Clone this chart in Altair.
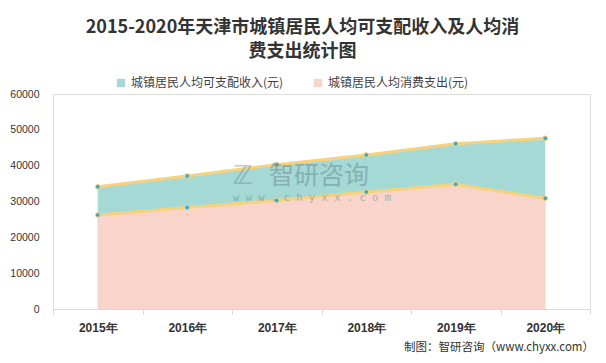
import altair as alt
import pandas as pd

years = ["2015年", "2016年", "2017年", "2018年", "2019年", "2020年"]
income = [34101, 37110, 40278, 42976, 46119, 47659]
consumption = [26230, 28345, 30284, 32655, 34811, 30895]
series_names = ["城镇居民人均可支配收入(元)", "城镇居民人均消费支出(元)"]
series_colors = ["#a4d9d6", "#f8d4ca"]
y_ticks = [0, 10000, 20000, 30000, 40000, 50000, 60000]

rows = []
for i, y in enumerate(years):
    rows.append({"year": y, "series": series_names[0], "value": income[i], "order": 0})
    rows.append({"year": y, "series": series_names[1], "value": consumption[i], "order": 1})
df = pd.DataFrame(rows)

W, H = 537, 215
FONT = "Noto Sans CJK SC"

x_enc = alt.X("year:N", sort=years, bandPosition=0.5,
              scale=alt.Scale(type="band", paddingInner=0, paddingOuter=0),
              axis=alt.Axis(title=None, labelAngle=0, labelFont="Liberation Sans",
                            labelFontWeight="bold", labelFontSize=12, labelColor="#333333",
                            labelPadding=8, domainColor="#d9d9d9", tickColor="#d9d9d9",
                            tickSize=5, tickBand="extent", grid=False))
y_enc = alt.Y("value:Q", scale=alt.Scale(domain=[0, 60000], nice=False),
              axis=alt.Axis(title=None, values=y_ticks, format="d", labelFontSize=10.5,
                            labelFont="Liberation Sans", labelColor="#333333",
                            labelPadding=14, domain=False, ticks=False, grid=False))
color_enc = alt.Color("series:N", sort=series_names,
                      scale=alt.Scale(domain=series_names, range=series_colors),
                      legend=alt.Legend(title=None, orient="none", direction="horizontal",
                                        legendX=62, legendY=-17, symbolType="square",
                                        symbolSize=70, symbolStrokeWidth=0,
                                        labelFont=FONT, labelFontSize=12,
                                        labelColor="#404040", columnPadding=28,
                                        labelLimit=300, symbolOpacity=1))

base = alt.Chart(df).encode(x=x_enc, y=y_enc)

area_income = base.transform_filter(alt.datum.order == 0).mark_area(opacity=1).encode(color=color_enc)
area_cons = base.transform_filter(alt.datum.order == 1).mark_area(opacity=1).encode(color=color_enc)
lines = base.mark_line(color="#f6d27c", strokeWidth=3).encode(detail="series:N")
points = base.mark_point(filled=True, size=22, fill="#3aa7c4", stroke="#f6d27c",
                         strokeWidth=1, opacity=1).encode(detail="series:N")

wm1 = alt.Chart(pd.DataFrame({"t": ["智研咨询"]})).mark_text(
    font=FONT, fontSize=25, color="#6f8f93", opacity=0.55,
    align="left", baseline="middle").encode(x=alt.value(216), y=alt.value(82), text="t:N")
wm2 = alt.Chart(pd.DataFrame({"t": ["w w w . c h y x x . c o m"]})).mark_text(
    font="DejaVu Sans Mono", fontSize=10.5, color="#6f8f93", opacity=0.55,
    align="left", baseline="middle").encode(x=alt.value(180), y=alt.value(104), text="t:N")
wm_icon = alt.Chart(pd.DataFrame({"t": ["ℤ"]})).mark_text(
    font="DejaVu Sans", fontSize=26, fontWeight="bold", color="#6f8f93", opacity=0.45,
    align="left", baseline="middle").encode(x=alt.value(180), y=alt.value(82), text="t:N")
footer = alt.Chart(pd.DataFrame({"t": ["制图：智研咨询（www.chyxx.com）"]})).mark_text(
    font=FONT, fontSize=11.5, color="#333333", align="right", baseline="middle").encode(
    x=alt.value(541), y=alt.value(254), text="t:N")

chart = alt.layer(area_income, area_cons, lines, points, wm_icon, wm1, wm2, footer).properties(
    width=W, height=H,
    autosize=alt.AutoSizeParams(type="none"),
    padding={"left": 45, "top": 86, "right": 8, "bottom": 46},
    title=alt.TitleParams(
        text=["2015-2020年天津市城镇居民人均可支配收入及人均消", "费支出统计图"],
        font=FONT, fontSize=18, fontWeight="bold", color="#333333",
        anchor="middle", dx=-19, offset=16, lineHeight=24),
).configure_view(stroke=None).configure(background="white")

chart.save("out.html", embed_options={"renderer": "svg", "actions": False})
